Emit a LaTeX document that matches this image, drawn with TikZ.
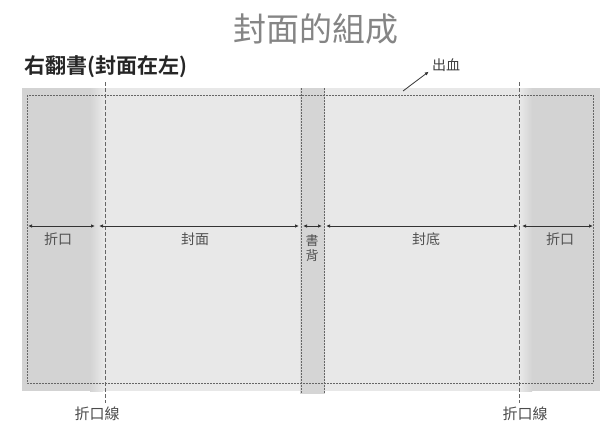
\documentclass[tikz,border=0pt]{standalone}
\usepackage{fontspec}
\newfontfamily\cjk{Noto Sans CJK TC}
\newfontfamily\cjkb{Noto Sans CJK TC Bold}
\usetikzlibrary{arrows.meta}
\definecolor{outerg}{HTML}{DCDCDC}
\definecolor{flapg}{HTML}{D3D3D3}
\definecolor{panelg}{HTML}{E8E8E8}
\definecolor{spineg}{HTML}{D5D5D5}
\definecolor{dashg}{HTML}{666666}
\definecolor{labelg}{HTML}{505050}
\definecolor{titleg}{HTML}{858585}
\tikzset{
  trimline/.style={draw=dashg, line width=0.7pt, dash pattern=on 1.6pt off 1.4pt},
  foldline/.style={draw=dashg, line width=0.7pt, dash pattern=on 3.5pt off 2.5pt},
  dimarrow/.style={draw=black!80, line width=0.8pt, {Latex[length=4pt,width=3.5pt]}-{Latex[length=4pt,width=3.5pt]}},
  lbl/.style={font=\cjk\fontsize{14}{15}\selectfont, text=labelg, inner sep=1pt},
}
\begin{document}
\begin{tikzpicture}[x=1pt,y=-1pt]
\useasboundingbox (0,0) rectangle (613,428);
\fill[white] (0,0) rectangle (613,428);
% outer bleed area
\fill[outerg] (22,88) rectangle (600,391);
% panels
\fill[flapg] (22,88) rectangle (90,391);
\shade[left color=flapg, right color=panelg] (90,88) rectangle (103,391);
\fill[panelg] (103,88) rectangle (300,391);
\fill[spineg] (300,88) rectangle (325,394);
\fill[panelg] (325,88) rectangle (520,391);
\shade[left color=panelg, right color=flapg] (520,88) rectangle (532,391);
\fill[flapg] (532,88) rectangle (600,391);
% trim rectangle
\draw[trimline] (27,95) rectangle (593,383);
% spine edges
\draw[trimline] (301,88) -- (301,393);
\draw[trimline] (324,88) -- (324,393);
% fold lines
\coordinate (fl1t) at (105,82);
\coordinate (fl1b) at (105,403);
\coordinate (fl2t) at (519,82);
\coordinate (fl2b) at (519,403);
\draw[foldline] (fl1t) -- (fl1b);
\draw[foldline] (fl2t) -- (fl2b);
% dimension arrows
\coordinate (a0) at (28,226);
\coordinate (a1) at (95,226);
\coordinate (a2) at (99,226);
\coordinate (a3) at (299,226);
\coordinate (a4) at (303,226);
\coordinate (a5) at (322,226);
\coordinate (a6) at (326,226);
\coordinate (a7) at (518,226);
\coordinate (a8) at (522,226);
\coordinate (a9) at (593,226);
\draw[dimarrow] (a0) -- (a1);
\draw[dimarrow] (a2) -- (a3);
\draw[dimarrow] (a4) -- (a5);
\draw[dimarrow] (a6) -- (a7);
\draw[dimarrow] (a8) -- (a9);
% labels
\node[lbl] (l1) at (58,239) {折口};
\node[lbl] (l2) at (195,239) {封面};
\node[lbl, align=center, font=\cjk\fontsize{13}{14.5}\selectfont] (l3) at (312,248) {書\\背};
\node[lbl] (l4) at (426,239) {封底};
\node[lbl] (l5) at (560,239) {折口};
% titles
\node[font=\cjk\fontsize{33}{36}\selectfont, text=titleg] (title) at (316,29) {封面的組成};
\node[font=\cjkb\fontsize{21}{24}\selectfont, text=black!85, anchor=west] (sub) at (21,67) {右翻書(封面在左)};
% bleed label
\node[lbl, font=\cjk\fontsize{14}{15}\selectfont, text=black!75] (bleed) at (446,65) {出血};
\coordinate (bleedpt) at (403,91);
\draw[black!80, line width=0.8pt, -{Latex[length=4pt,width=3.5pt]}] (bleedpt) -- ([xshift=-2pt,yshift=1pt]bleed.south west);
% fold labels
\node[lbl, font=\cjk\fontsize{15}{16}\selectfont, text=black!70] (f1) at (97,414) {折口線};
\node[lbl, font=\cjk\fontsize{15}{16}\selectfont, text=black!70] (f2) at (525,414) {折口線};
\end{tikzpicture}
\end{document}
